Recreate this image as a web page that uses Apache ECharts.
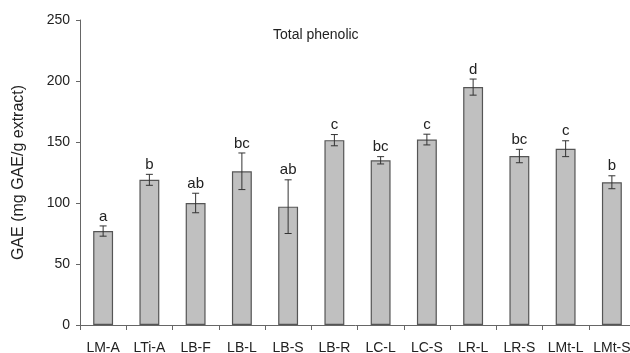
<!DOCTYPE html>
<html>
<head>
<meta charset="utf-8">
<script src="https://cdn.jsdelivr.net/npm/echarts@6/dist/echarts.min.js"></script>
<style>
  html, body { margin: 0; padding: 0; background: #fff; }
  #chart { width: 630px; height: 353px; }
</style>
</head>
<body>
<div id="chart"></div>
<script>
const categories = ["LM-A", "LTi-A", "LB-F", "LB-L", "LB-S", "LB-R", "LC-L", "LC-S", "LR-L", "LR-S", "LMt-L", "LMt-S"];
const means = [77, 119, 100, 126, 97, 151.5, 135, 152, 195, 138.5, 144.5, 117];
const errors = [4.2, 4.5, 8, 15, 22, 4.6, 3, 4.4, 6.6, 5.5, 6.5, 5.3];
const letters = ["a", "b", "ab", "bc", "ab", "c", "bc", "c", "d", "bc", "c", "b"];
const yTicks = [0, 250, 50];

const chart = echarts.init(document.getElementById("chart"));

const errorData = means.map((m, i) => [i, m - errors[i], m + errors[i], letters[i]]);

option = {
	animation: false,
	title: {
		text: "Total phenolic",
		left: 268,
		top: 23,
		textStyle: {
			fontFamily: "Liberation Sans",
			fontSize: 14,
			fontWeight: "normal",
			color: "#222"
		}
	},
	grid: {
		left: 80,
		right: -5,
		top: 20,
		bottom: 28,
		outerBoundsMode: "none"
	},
	xAxis: {
		type: "category",
		data: categories,
		axisLine: { lineStyle: { color: "#666", width: 1 } },
		axisTick: { show: true, length: 5, lineStyle: { color: "#666" } },
		axisLabel: {
			interval: 0,
			margin: 16,
			fontFamily: "Liberation Sans",
			fontSize: 14,
			color: "#222"
		}
	},
	yAxis: {
		type: "value",
		min: yTicks[0],
		max: yTicks[1],
		interval: yTicks[2],
		name: "GAE (mg GAE/g extract)",
		nameLocation: "middle",
		nameGap: 53,
		nameTextStyle: {
			fontFamily: "Liberation Sans",
			fontSize: 16,
			color: "#222"
		},
		axisLine: { show: true, lineStyle: { color: "#666", width: 1 } },
		axisTick: { show: true, length: 4, lineStyle: { color: "#666" } },
		axisLabel: {
			margin: 10,
			fontFamily: "Liberation Sans",
			fontSize: 14,
			color: "#222"
		},
		splitLine: { show: false }
	},
	series: [{
		type: "bar",
		data: means,
		barWidth: "43%",
		itemStyle: {
			color: "#c0c0c0",
			borderColor: "#555",
			borderWidth: 1.2
		}
	}, {
		type: "custom",
		data: errorData,
		z: 10,
		renderItem: (params, api) => {
			const x = api.value(0);
			const lo = api.coord([x, api.value(1)]);
			const hi = api.coord([x, api.value(2)]);
			const cap = 3.5;
			const style = { stroke: "#333", lineWidth: 1 };
			return {
				type: "group",
				children: [
					{ type: "line", shape: { x1: lo[0], y1: lo[1], x2: hi[0], y2: hi[1] }, style },
					{ type: "line", shape: { x1: lo[0] - cap, y1: lo[1], x2: lo[0] + cap, y2: lo[1] }, style },
					{ type: "line", shape: { x1: hi[0] - cap, y1: hi[1], x2: hi[0] + cap, y2: hi[1] }, style },
					{
						type: "text",
						style: {
							text: errorData[params.dataIndex][3],
							x: hi[0],
							y: hi[1] - 2,
							align: "center",
							verticalAlign: "bottom",
							font: "15px 'Liberation Sans'",
							fill: "#222"
						}
					}
				]
			};
		}
	}]
};

chart.setOption(option);
window.onresize = chart.resize;
</script>
</body>
</html>
